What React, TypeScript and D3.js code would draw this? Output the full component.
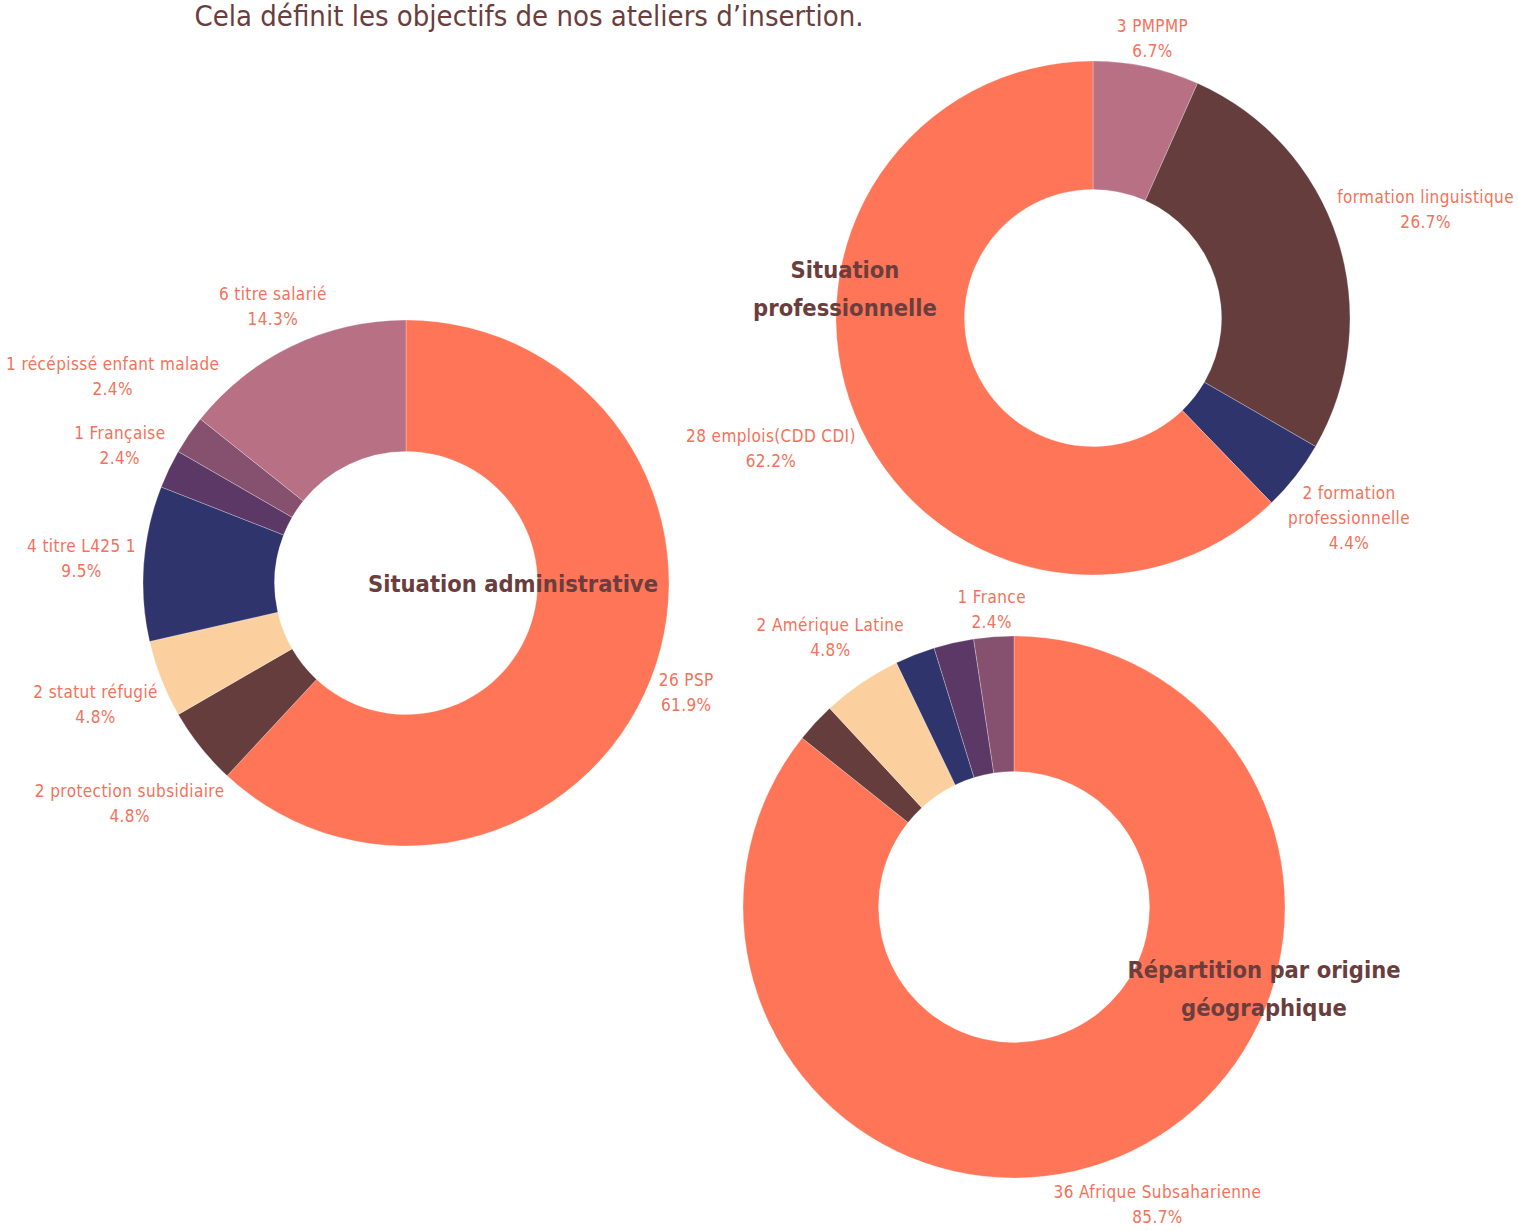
import React from 'react';
import * as d3 from 'd3';

// ---------- DATA ----------
const pageTitle = "Cela définit les objectifs de nos ateliers d’insertion.";

const adminCategories = [
  "26 PSP",
  "2 protection subsidiaire",
  "2 statut réfugié",
  "4 titre L425 1",
  "1 Française",
  "1 récépissé enfant malade",
  "6 titre salarié",
];
const adminValues = [26, 2, 2, 4, 1, 1, 6];
const adminTitle = ["Situation administrative"];

const proCategories = [
  "3 PMPMP",
  "formation linguistique",
  "2 formation\nprofessionnelle",
  "28 emplois(CDD CDI)",
];
const proValues = [3, 12, 2, 28];
const proTitle = ["Situation", "professionnelle"];

const geoCategories = ["36 Afrique Subsaharienne", "", "2 Amérique Latine", "", "", "1 France"];
const geoValues = [36, 1, 2, 1, 1, 1];
const geoTitle = ["Répartition par origine", "géographique"];

// ---------- STYLE ----------
const C = {
  orange: '#FF7557',
  brown: '#663D3D',
  peach: '#FBD09E',
  navy: '#30346C',
  purple: '#5C3866',
  mauve: '#86516F',
  pink: '#B87084',
};
const adminColors = [C.orange, C.brown, C.peach, C.navy, C.purple, C.mauve, C.pink];
const proColors = [C.pink, C.brown, C.navy, C.orange];
const geoColors = [C.orange, C.brown, C.peach, C.navy, C.purple, C.mauve];

const FONT = "'DejaVu Sans Condensed', 'DejaVu Sans', sans-serif";
const LABEL_COLOR = '#F4715A';
const TITLE_COLOR = '#6B3E3E';
const LABEL_SIZE = 17;
const LABEL_LS = 0.4;
const LINE_H = 25;
const W = 1518;
const H = 1231;

let measureCtx: CanvasRenderingContext2D | null = null;
function textWidth(s: string, size: number, weight = 'normal') {
  if (!measureCtx) measureCtx = document.createElement('canvas').getContext('2d');
  if (!measureCtx) return s.length * size * 0.5;
  measureCtx.font = `${weight} ${size}px 'DejaVu Sans Condensed', 'DejaVu Sans', sans-serif`;
  return measureCtx.measureText(s).width + s.length * LABEL_LS;
}

type DonutProps = {
  cx: number; cy: number; r: number;
  categories: string[]; values: number[]; colors: string[];
  labelGap: number;
  title: string[]; titleDx: number; titleDy: number;
};

function Donut({ cx, cy, r, categories, values, colors, labelGap }: DonutProps) {
  const total = d3.sum(values);
  const pie = d3.pie<number>().sort(null).value((d) => d)(values);
  const arc = d3.arc<d3.PieArcDatum<number>>().innerRadius(r / 2).outerRadius(r);
  const fmt = d3.format('.1f');
  return (
    <g transform={`translate(${cx},${cy})`}>
      {pie.map((p, i) => (
        <path key={i} d={arc(p) || ''} fill={colors[i]} stroke="#ffffff" strokeOpacity={0.45} strokeWidth={0.6} />
      ))}
      {pie.map((p, i) => {
        if (!categories[i]) return null;
        const lines = [...categories[i].split('\n'), fmt((values[i] / total) * 100) + '%'];
        const w = d3.max(lines, (l) => textWidth(l, LABEL_SIZE)) || 0;
        const h = lines.length * LINE_H;
        const mid = (p.startAngle + p.endAngle) / 2;
        const ux = Math.sin(mid);
        const uy = -Math.cos(mid);
        let d = r + labelGap + Math.abs(ux) * w / 2 + Math.abs(uy) * h * 0.3;
        const place = (dd: number) => {
          let x = ux * dd;
          x = Math.max(x, 6 - cx + w / 2);
          x = Math.min(x, W - 4 - cx - w / 2);
          return [x, uy * dd];
        };
        // push outward until the core of the text block clears the ring
        const hw = w / 4, hh = h / 2 - 5;
        for (let k = 0; k < 80; k++) {
          const [x, y] = place(d);
          const nx = Math.max(x - hw, Math.min(0, x + hw));
          const ny = Math.max(y - hh, Math.min(0, y + hh));
          if (Math.hypot(nx, ny) >= r + 6) break;
          d += 1;
        }
        const [lx, ly] = place(d);
        return (
          <text key={'l' + i} textAnchor="middle" fill={LABEL_COLOR} fontFamily={FONT} fontSize={LABEL_SIZE} letterSpacing={LABEL_LS}>
            {lines.map((l, j) => (
              <tspan key={j} x={lx} y={ly - h / 2 + LINE_H * (j + 0.5)} dy="0.35em">{l}</tspan>
            ))}
          </text>
        );
      })}
    </g>
  );
}

function CenterTitle({ cx, cy, title, titleDx, titleDy }: DonutProps) {
  return (
    <text textAnchor="middle" fill={TITLE_COLOR} fontFamily={FONT} fontSize={23.5} fontWeight="bold">
      {title.map((t, j) => (
        <tspan key={j} x={cx + titleDx} y={cy + titleDy + j * 38} dy="0.35em">{t}</tspan>
      ))}
    </text>
  );
}

export default function App() {
  const charts: DonutProps[] = [
    { cx: 406, cy: 583, r: 263, categories: adminCategories, values: adminValues, colors: adminColors, labelGap: 7, title: adminTitle, titleDx: 107, titleDy: 1 },
    { cx: 1093, cy: 318, r: 257, categories: proCategories, values: proValues, colors: proColors, labelGap: 6, title: proTitle, titleDx: -248, titleDy: -48 },
    { cx: 1014, cy: 907, r: 271, categories: geoCategories, values: geoValues, colors: geoColors, labelGap: 1, title: geoTitle, titleDx: 250, titleDy: 63 },
  ];
  return (
    <svg width={W} height={H} style={{ position: 'absolute', left: 0, top: 0, background: '#fff' }}>
      <text x={529} y={26} textAnchor="middle" fill={TITLE_COLOR} fontFamily={FONT} fontSize={29}>{pageTitle}</text>
      {charts.map((c, i) => <Donut key={i} {...c} />)}
      {charts.map((c, i) => <CenterTitle key={'t' + i} {...c} />)}
    </svg>
  );
}
